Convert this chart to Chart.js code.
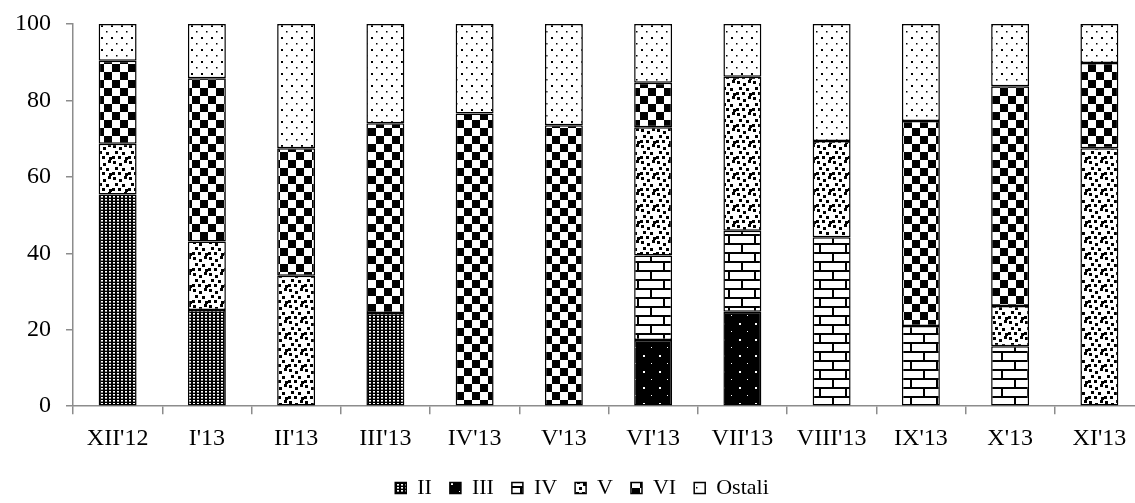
<!DOCTYPE html>
<html>
<head>
<meta charset="utf-8">
<script src="https://cdn.jsdelivr.net/npm/chart.js@4/dist/chart.umd.min.js"></script>
<style>
  html, body { margin: 0; padding: 0; background: #fff; overflow: hidden; }
  #wrap { width: 1144px; height: 503px; position: relative; }
</style>
</head>
<body>
<div id="wrap"><canvas id="c"></canvas></div>
<script>
// Monthly structure (percent shares) by group
const categories = ["XII'12", "I'13", "II'13", "III'13", "IV'13", "V'13", "VI'13", "VII'13", "VIII'13", "IX'13", "X'13", "XI'13"];
const seriesNames = ["II", "III", "IV", "V", "VI", "Ostali"];
const valuesII     = [55.4, 25.2, null, 24.4, null, null, null, null, null, null, null, null];
const valuesIII    = [null, null, null, null, null, null, 17.3, 24.7, null, null, null, null];
const valuesIV     = [null, null, null, null, null, null, 22.1, 21.2, 44.2, 21.0, 15.7, null];
const valuesV      = [13.3, 17.9, 34.1, null, null, null, 33.6, 40.3, 25.2, null, 10.5, 67.5];
const valuesVI     = [21.7, 42.7, 33.4, 49.6, 76.6, 73.5, 11.6, null, null, 53.6, 57.5, 22.3];
const valuesOstali = [9.6, 14.2, 32.5, 26.0, 23.4, 26.5, 15.4, 13.8, 30.6, 25.4, 16.3, 10.2];
const yTicks = [0, 20, 40, 60, 80, 100];

// --- monochrome fill patterns ---
function makeTile(w, h, draw) {
  const cv = document.createElement('canvas');
  cv.width = w; cv.height = h;
  const g = cv.getContext('2d');
  draw(g, w, h);
  return g.createPattern(cv, 'repeat');
}
const patII = makeTile(4, 3, (g, w, h) => {
  g.fillStyle = '#000'; g.fillRect(0, 0, w, h);
  g.fillStyle = '#fff'; g.fillRect(1, 1, 2, 1.6);
});
const patIII = makeTile(16, 16, (g, w, h) => {
  g.fillStyle = '#000'; g.fillRect(0, 0, w, h);
  g.fillStyle = '#fff'; g.fillRect(3, 3, 2, 2); g.fillRect(11, 11, 1, 1);
});
const patIV = makeTile(26, 18, (g, w, h) => {
  g.fillStyle = '#fff'; g.fillRect(0, 0, w, h);
  g.fillStyle = '#000';
  g.fillRect(0, 0, w, 2); g.fillRect(0, 9, w, 2);
  g.fillRect(0, 0, 2, 9); g.fillRect(13, 9, 2, 9);
});
const patV = makeTile(16, 16, (g, w, h) => {
  g.fillStyle = '#fff'; g.fillRect(0, 0, w, h);
  g.fillStyle = '#000';
  [[1,1],[7,3],[12,0],[3,7],[10,8],[0,12],[6,12],[13,13]].forEach(p => g.fillRect(p[0], p[1], 3, 3));
});
const patVI = makeTile(16, 16, (g, w, h) => {
  g.fillStyle = '#fff'; g.fillRect(0, 0, w, h);
  g.fillStyle = '#000'; g.fillRect(0, 0, 8, 8); g.fillRect(8, 8, 8, 8);
});
const patOstali = makeTile(10, 12, (g, w, h) => {
  g.fillStyle = '#fff'; g.fillRect(0, 0, w, h);
  g.fillStyle = '#000'; g.fillRect(1, 1, 2, 2); g.fillRect(6, 7, 1.5, 1.5);
});

const seriesValues = [valuesII, valuesIII, valuesIV, valuesV, valuesVI, valuesOstali];
const seriesFills = [patII, patIII, patIV, patV, patVI, patOstali];

const FONT = "'Liberation Serif', 'Times New Roman', serif";

// nudges the legend row a few pixels lower and to the right after layout
const legendOffset = {
  id: 'legendOffset',
  afterLayout(chart) {
    const lg = chart.legend;
    if (lg) { lg.top += 5; lg.bottom += 5; lg.left += 10; lg.right += 10; }
  }
};

new Chart(document.getElementById('c'), {
  type: 'bar',
  data: {
    labels: categories,
    datasets: seriesNames.map((name, i) => ({
      label: name,
      data: seriesValues[i],
      backgroundColor: seriesFills[i],
      borderColor: '#000',
      borderWidth: 1.5,
      borderSkipped: false,
      barPercentage: 0.425,
      categoryPercentage: 1.0
    }))
  },
  plugins: [legendOffset],
  options: {
    responsive: true,
    maintainAspectRatio: false,
    animation: false,
    layout: { padding: { left: 0, top: 6, right: 0, bottom: 0 } },
    scales: {
      x: {
        stacked: true,
        offset: true,
        afterFit: scale => { scale.height -= 9; },
        grid: { display: true, offset: true, drawOnChartArea: false, drawTicks: true, tickLength: 8, color: '#8c8c8c', lineWidth: 1.5 },
        border: { display: true, color: '#8c8c8c', width: 1.5 },
        ticks: { color: '#000', font: { family: FONT, size: 24 }, padding: 10, maxRotation: 0, autoSkip: false }
      },
      y: {
        stacked: true,
        min: 0,
        max: 100,
        afterBuildTicks: axis => { axis.ticks = yTicks.map(v => ({ value: v })); },
        grid: { display: true, drawOnChartArea: false, drawTicks: true, tickLength: 7, color: '#8c8c8c', lineWidth: 1.5 },
        border: { display: true, color: '#8c8c8c', width: 1.5 },
        ticks: { color: '#000', font: { family: FONT, size: 24, lineHeight: 0.75 }, padding: 15 }
      }
    },
    plugins: {
      legend: {
        position: 'bottom',
        maxHeight: 49,
        labels: { boxWidth: 11, boxHeight: 11, padding: 18, color: '#000', font: { family: FONT, size: 22 } }
      },
      tooltip: { enabled: false }
    }
  }
});
</script>
</body>
</html>
